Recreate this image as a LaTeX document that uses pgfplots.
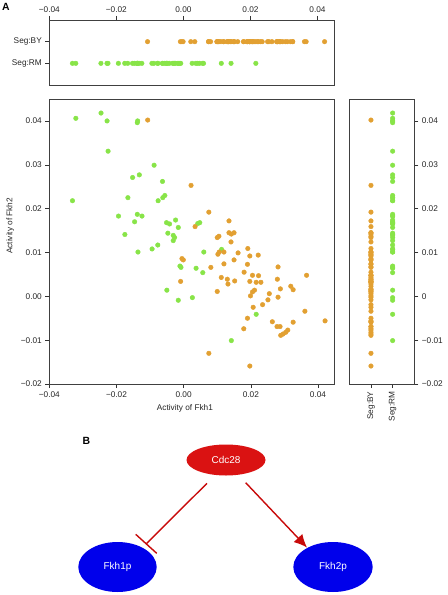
\documentclass[border=0pt]{standalone}
\usepackage{pgfplots}
\pgfplotsset{compat=1.18}
\usepackage{pgfplotstable}
\usepackage{fontspec}
\setmainfont{Liberation Sans}
\usetikzlibrary{arrows.meta}
\definecolor{BYcol}{RGB}{226,160,50}
\definecolor{RMcol}{RGB}{136,228,72}
\definecolor{nodered}{RGB}{218,18,18}
\definecolor{edgered}{RGB}{200,10,10}
\definecolor{nodeblue}{RGB}{0,0,235}

\pgfplotstableread{
x y
-0.0321 0.0406
-0.0246 0.0418
-0.0228 0.0400
-0.0137 0.0400
-0.0138 0.0396
-0.0225 0.0331
-0.0331 0.0218
-0.0088 0.0299
-0.0152 0.0271
-0.0132 0.0277
-0.0063 0.0262
-0.0166 0.0225
-0.0076 0.0218
-0.0062 0.0225
-0.0056 0.0230
-0.0194 0.0183
-0.0146 0.0170
-0.0138 0.0187
-0.0124 0.0183
-0.0051 0.0168
-0.0042 0.0165
-0.0024 0.0174
-0.0016 0.0157
0.0042 0.0166
0.0048 0.0168
-0.0175 0.0141
-0.0047 0.0144
-0.0031 0.0139
-0.0027 0.0134
-0.0031 0.0127
-0.0136 0.0101
-0.0094 0.0108
-0.0077 0.0117
0.0060 0.0101
0.0113 0.0107
-0.0011 0.0069
-0.0008 0.0066
0.0037 0.0064
0.0057 0.0054
-0.0050 0.0014
-0.0016 -0.0009
0.0026 -0.0003
0.0216 -0.0041
0.0142 -0.0101
}\RM

\pgfplotstableread{
x y
-0.0107 0.0402
0.0022 0.0253
0.0075 0.0192
0.0034 0.0159
0.0135 0.0172
0.0135 0.0145
0.0142 0.0142
0.0150 0.0145
0.0100 0.0134
0.0105 0.0137
0.0141 0.0124
0.0102 0.0096
0.0106 0.0101
0.0120 0.0101
0.0162 0.0099
0.0191 0.0109
0.0197 0.0092
0.0222 0.0094
0.0150 0.0083
0.0120 0.0074
0.0190 0.0073
0.0081 0.0066
0.0180 0.0055
0.0205 0.0048
0.0223 0.0047
0.0281 0.0067
0.0366 0.0048
0.0112 0.0043
0.0130 0.0039
0.0132 0.0028
0.0152 0.0035
0.0197 0.0034
0.0216 0.0032
0.0230 0.0032
0.0279 0.0039
0.0288 0.0017
0.0319 0.0023
0.0326 0.0015
0.0100 0.0011
0.0211 0.0014
0.0205 0.0010
0.0199 0.0001
0.0255 0.0006
0.0281 -0.0002
0.0251 -0.0008
0.0235 -0.0019
0.0207 -0.0025
0.0361 -0.0034
0.0190 -0.0050
0.0264 -0.0058
0.0326 -0.0059
0.0421 -0.0056
0.0278 -0.0069
0.0287 -0.0069
0.0179 -0.0074
0.0310 -0.0077
0.0304 -0.0082
0.0296 -0.0086
0.0289 -0.0089
0.0075 -0.0130
0.0197 -0.0159
-0.0005 0.0086
-0.0001 0.0083
-0.0009 0.0034
}\BY

\pgfplotsset{
  rstyle/.style={
    scale only axis,
    scaled ticks=false,
    tick align=outside,
    major tick length=4bp,
    axis line style={black!75, line width=0.6bp},
    every tick/.style={black!80, line width=0.5bp},
    ticklabel style={font=\fontsize{8.3}{9}\selectfont, text=black!85},
    label style={font=\fontsize{8.3}{9}\selectfont, text=black!85},
    clip=false,
  },
  BYmarks/.style={only marks, mark=*, mark size=2.3bp, color=BYcol, mark options={draw=none, fill=BYcol}},
  RMmarks/.style={only marks, mark=*, mark size=2.3bp, color=RMcol, mark options={draw=none, fill=RMcol}},
}

\begin{document}
\begin{tikzpicture}
\useasboundingbox (0,0) rectangle (448bp,-595bp);

% top strip
\begin{axis}[rstyle,
  at={(49.3bp,-85bp)}, anchor=south west,
  width=285bp, height=65bp,
  xmin=-0.04, xmax=0.045, ymin=0, ymax=3,
  xtick={-0.04,-0.02,0,0.02,0.04},
  xticklabels={−0.04,−0.02,0.00,0.02,0.04},
  xtick pos=upper, xticklabel pos=upper,
  ytick={1,2}, yticklabels={Seg:RM,Seg:BY},
  ytick pos=lower,
]
\addplot[RMmarks] table[x=x, y expr=1] {\RM};
\addplot[BYmarks] table[x=x, y expr=2] {\BY};
\end{axis}

% main scatter
\begin{axis}[rstyle,
  at={(49.3bp,-384bp)}, anchor=south west,
  width=285.5bp, height=285bp,
  xmin=-0.04, xmax=0.045, ymin=-0.02, ymax=0.045,
  xtick={-0.04,-0.02,0,0.02,0.04},
  xticklabels={−0.04,−0.02,0.00,0.02,0.04},
  ytick={-0.02,-0.01,0,0.01,0.02,0.03,0.04},
  yticklabels={−0.02,−0.01,0.00,0.01,0.02,0.03,0.04},
  xtick pos=lower, ytick pos=left,
  xlabel={Activity of Fkh1}, ylabel={Activity of Fkh2},
  xlabel style={at={(ticklabel cs:0.475)}},
  ylabel style={at={(ticklabel cs:0.555)}},
]
\addplot[RMmarks] table[x=x, y=y] {\RM};
\addplot[BYmarks] table[x=x, y=y] {\BY};
\end{axis}

% right strip
\begin{axis}[rstyle,
  at={(349.3bp,-384bp)}, anchor=south west,
  width=65bp, height=285bp,
  xmin=0, xmax=3, ymin=-0.02, ymax=0.045,
  xtick={1,2}, xticklabels={Seg:BY,Seg:RM},
  xticklabel style={rotate=90, anchor=east},
  xtick pos=lower,
  ytick={-0.02,-0.01,0,0.01,0.02,0.03,0.04},
  yticklabels={−0.02,−0.01,0,0.01,0.02,0.03,0.04},
  ytick pos=upper, yticklabel pos=upper,
]
\addplot[BYmarks] table[x expr=1, y=y] {\BY};
\addplot[RMmarks] table[x expr=2, y=y] {\RM};
\end{axis}

% panel labels
\node[font=\bfseries\fontsize{10.5}{12}\selectfont] at (6bp,-7bp) {A};
\node[font=\bfseries\fontsize{10.5}{12}\selectfont] at (86.5bp,-440.5bp) {B};

% panel B network
\fill[nodered] (226bp,-460bp) ellipse [x radius=39.5bp, y radius=15.5bp];
\node[white, font=\fontsize{10}{11}\selectfont] at (226bp,-460bp) {Cdc28};
\fill[nodeblue] (117.5bp,-567bp) ellipse [x radius=39.2bp, y radius=25bp];
\node[white, font=\fontsize{10}{11}\selectfont] at (117.5bp,-567bp) {Fkh1p};
\fill[nodeblue] (333bp,-567bp) ellipse [x radius=39.7bp, y radius=25bp];
\node[white, font=\fontsize{10}{11}\selectfont] at (333bp,-567bp) {Fkh2p};

\draw[edgered, line width=1.4bp] (207bp,-483.3bp) -- (146.5bp,-543.5bp);
\draw[edgered, line width=1.4bp] (135.7bp,-534.3bp) -- (156.7bp,-553.3bp);
\draw[edgered, line width=1.4bp, -{Latex[length=13bp,width=12bp]}] (245.7bp,-482.7bp) -- (307bp,-547.5bp);
\end{tikzpicture}
\end{document}
